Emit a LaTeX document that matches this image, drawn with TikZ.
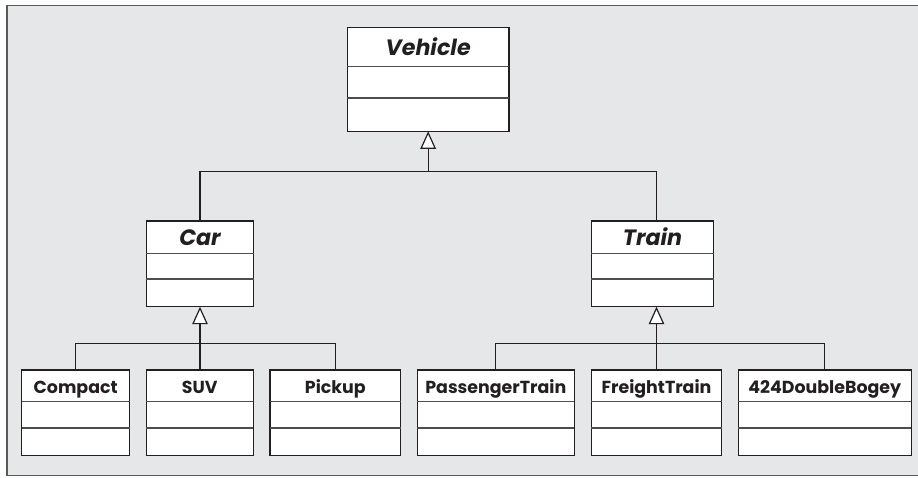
\documentclass[tikz,border=0pt]{standalone}
\usepackage{fontspec}
\setmainfont{Poppins}
\usetikzlibrary{arrows.meta}
\definecolor{bgfill}{HTML}{E6E7E8}
\definecolor{framecol}{HTML}{58595B}
\definecolor{ink}{HTML}{231F20}
\definecolor{divcol}{HTML}{4D4D4F}
\tikzset{
  cbox/.style={draw=ink, fill=white, line width=1.3pt, inner sep=0pt, outer sep=0pt, anchor=north west},
  cdiv/.style={draw=divcol, line width=1.3pt},
  leaftext/.style={text=ink, anchor=base, inner sep=0pt, font=\fontsize{17.4}{20}\selectfont\bfseries},
  abstext/.style={text=ink, anchor=base, inner sep=0pt, font=\fontsize{22.2}{26}\selectfont\bfseries\itshape},
  conn/.style={draw=ink, line width=1.2pt},
  inherit/.style={conn, -{Triangle[length=17.5pt, width=15.5pt, fill=white, line join=miter]}}
}
\begin{document}
\begin{tikzpicture}[x=1pt,y=-1pt]
\useasboundingbox (0,0) rectangle (918,477);
\fill[bgfill] (7,5.3) rectangle (930,475.7);
\draw[framecol, line width=1.5pt] (930,5.3) -- (7,5.3) -- (7,475.7) -- (930,475.7);

% classes
\node[cbox, minimum width=161.7, minimum height=104] (vehicle) at (347.3,27.3) {};
\draw[cdiv] (347.3,66.7) -- (509,66.7);
\draw[cdiv] (347.3,98) -- (509,98);
\node[abstext] (vehicle-t) at (428.15,55.7) {Vehicle};

\node[cbox, minimum width=107.4, minimum height=85.7] (car) at (146.3,221) {};
\draw[cdiv] (146.3,253.3) -- (253.7,253.3);
\draw[cdiv] (146.3,279) -- (253.7,279);
\node[abstext] (car-t) at (200,245.7) {Car};

\node[cbox, minimum width=122.4, minimum height=85.7] (train) at (591.3,221) {};
\draw[cdiv] (591.3,253.3) -- (713.7,253.3);
\draw[cdiv] (591.3,279) -- (713.7,279);
\node[abstext] (train-t) at (652.5,245.7) {Train};

\node[cbox, minimum width=108, minimum height=85.3] (compact) at (21.7,370) {};
\draw[cdiv] (21.7,401.7) -- (129.7,401.7);
\draw[cdiv] (21.7,428) -- (129.7,428);
\node[leaftext] (compact-t) at (75.7,393.3) {Compact};

\node[cbox, minimum width=107, minimum height=85.3] (suv) at (146.3,370) {};
\draw[cdiv] (146.3,401.7) -- (253.3,401.7);
\draw[cdiv] (146.3,428) -- (253.3,428);
\node[leaftext] (suv-t) at (199.8,393.3) {SUV};

\node[cbox, minimum width=130.7, minimum height=85.3] (pickup) at (270,370) {};
\draw[cdiv] (270,401.7) -- (400.7,401.7);
\draw[cdiv] (270,428) -- (400.7,428);
\node[leaftext] (pickup-t) at (335.35,393.3) {Pickup};

\node[cbox, minimum width=157, minimum height=85.3] (passenger) at (417.3,370) {};
\draw[cdiv] (417.3,401.7) -- (574.3,401.7);
\draw[cdiv] (417.3,428) -- (574.3,428);
\node[leaftext] (passenger-t) at (495.8,393.3) {PassengerTrain};

\node[cbox, minimum width=130.4, minimum height=85.3] (freight) at (591.3,370) {};
\draw[cdiv] (591.3,401.7) -- (721.7,401.7);
\draw[cdiv] (591.3,428) -- (721.7,428);
\node[leaftext] (freight-t) at (656.5,393.3) {FreightTrain};

\node[cbox, minimum width=173, minimum height=85.3] (bogey) at (738.3,370) {};
\draw[cdiv] (738.3,401.7) -- (911.3,401.7);
\draw[cdiv] (738.3,428) -- (911.3,428);
\node[leaftext] (bogey-t) at (824.8,393.3) {424DoubleBogey};

% connectors
\coordinate (vhub) at (vehicle.south |- 0,171.5);
\coordinate (trtop) at (freight.north |- train.north);
\coordinate (trbot) at (freight.north |- train.south);
\coordinate (chub) at (car.south |- 0,343.5);
\coordinate (thub) at (freight.north |- 0,343.5);

\draw[conn] (car.north) |- (vhub) -| (trtop);
\draw[inherit] (vhub) -- (vehicle.south);

\draw[conn] (compact.north) |- (chub) -| (pickup.north);
\draw[conn] (suv.north -| chub) -- (chub);
\draw[inherit] (chub) -- (car.south);

\draw[conn] (passenger.north) |- (thub) -| (bogey.north);
\draw[conn] (freight.north) -- (thub);
\draw[inherit] (thub) -- (trbot);
\end{tikzpicture}
\end{document}
